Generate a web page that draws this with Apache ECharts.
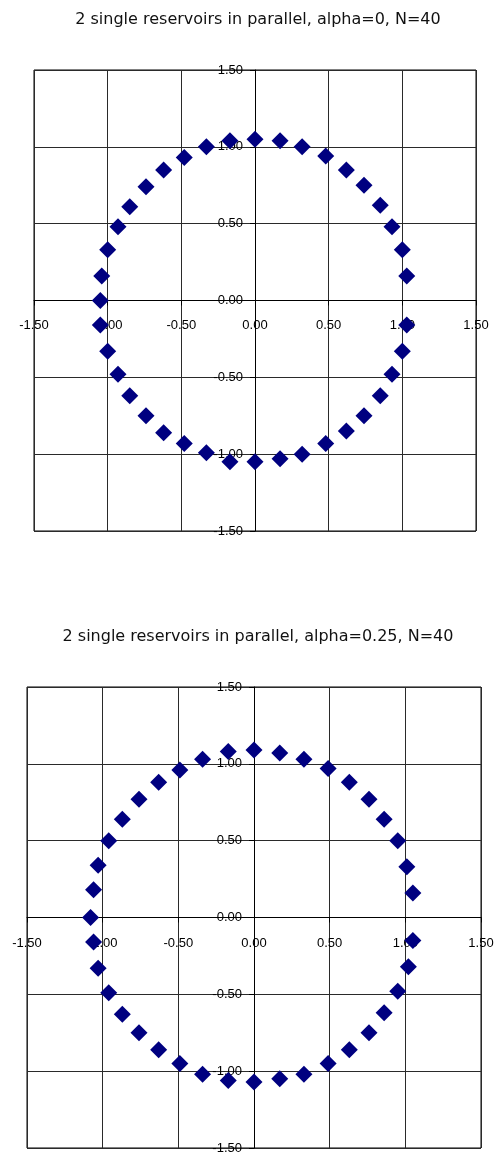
<!DOCTYPE html>
<html>
<head>
<meta charset="utf-8">
<title>2 single reservoirs in parallel</title>
<script src="https://cdn.jsdelivr.net/npm/echarts@6/dist/echarts.min.js"></script>
<style>
body{margin:0;background:#fff;}
#main{width:500px;height:1155px;}
</style>
</head>
<body>
<div id="main"></div>
<script>
// titles of the two plots
var titles = ['2 single reservoirs in parallel, alpha=0, N=40',
              '2 single reservoirs in parallel, alpha=0.25, N=40'];

// axis ticks (both axes, both plots)
var axisMin = -1.5, axisMax = 1.5, axisStep = 0.5;

// alpha=0 : points, going round from the right
var x1 = [1.03, 1.00, 0.93, 0.85, 0.74, 0.62, 0.48, 0.32, 0.17, 0.00,
          -0.17, -0.33, -0.48, -0.62, -0.74, -0.85, -0.93, -1.00, -1.04, -1.05,
          -1.05, -1.00, -0.93, -0.85, -0.74, -0.62, -0.48, -0.33, -0.17, 0.00,
          0.17, 0.32, 0.48, 0.62, 0.74, 0.85, 0.93, 1.00, 1.03];
var y1 = [0.16, 0.33, 0.48, 0.62, 0.75, 0.85, 0.94, 1.00, 1.04, 1.05,
          1.04, 1.00, 0.93, 0.85, 0.74, 0.61, 0.48, 0.33, 0.16, 0.00,
          -0.16, -0.33, -0.48, -0.62, -0.75, -0.86, -0.93, -0.99, -1.05, -1.05,
          -1.03, -1.00, -0.93, -0.85, -0.75, -0.62, -0.48, -0.33, -0.16];

// alpha=0.25
var x2 = [1.05, 1.01, 0.95, 0.86, 0.76, 0.63, 0.49, 0.33, 0.17, 0.00,
          -0.17, -0.34, -0.49, -0.63, -0.76, -0.87, -0.96, -1.03, -1.06, -1.08,
          -1.06, -1.03, -0.96, -0.87, -0.76, -0.63, -0.49, -0.34, -0.17, 0.00,
          0.17, 0.33, 0.49, 0.63, 0.76, 0.86, 0.95, 1.02, 1.05];
var y2 = [0.16, 0.33, 0.50, 0.64, 0.77, 0.88, 0.97, 1.03, 1.07, 1.09,
          1.08, 1.03, 0.96, 0.88, 0.77, 0.64, 0.50, 0.34, 0.18, 0.00,
          -0.16, -0.33, -0.49, -0.63, -0.75, -0.86, -0.95, -1.02, -1.06, -1.07,
          -1.05, -1.02, -0.95, -0.86, -0.75, -0.62, -0.48, -0.32, -0.15];

function pairs(xs, ys){
	var out = [];
	for (var i = 0; i < xs.length; i++) out.push([xs[i], ys[i]]);
	return out;
}

// plot boxes
var grids = [
	{left:34, top:70, width:442, height:461},
	{left:27, top:687, width:454, height:461}
];

var labelFont = {color:'#000', fontSize:13, fontFamily:'Liberation Sans'};
var gridLine = {show:true, lineStyle:{color:'#2a2a2a', width:1}};
function fmt(v){ return v.toFixed(2); }

// axes are pulled into the middle of the box (0 is centred since min=-max)
function xAxisFor(idx, margin){
	return {
		type:'value', gridIndex:idx, min:axisMin, max:axisMax, interval:axisStep,
		position:'bottom', offset:-grids[idx].height / 2,
		axisLine:{show:true, onZero:false, lineStyle:{color:'#000', width:1}},
		axisTick:{show:true, length:5, lineStyle:{color:'#000'}},
		axisLabel:Object.assign({margin:margin, formatter:fmt}, labelFont),
		splitLine:gridLine
	};
}
function yAxisFor(idx){
	return {
		type:'value', gridIndex:idx, min:axisMin, max:axisMax, interval:axisStep,
		position:'left', offset:-grids[idx].width / 2,
		axisLine:{show:true, onZero:false, lineStyle:{color:'#000', width:1}},
		axisTick:{show:true, length:5, lineStyle:{color:'#000'}},
		axisLabel:Object.assign({margin:12, formatter:fmt}, labelFont),
		splitLine:gridLine
	};
}

var myChart = echarts.init(document.getElementById('main'), null, {renderer:'canvas'});

var titleStyle = {fontFamily:'DejaVu Sans', fontSize:16, fontWeight:'normal', color:'#111'};

var option = {
	backgroundColor:'#fff',
	animation:false,
	title:[
		{text:titles[0], left:253, top:7, textAlign:'center', textStyle:titleStyle},
		{text:titles[1], left:253, top:624, textAlign:'center', textStyle:titleStyle}
	],
	grid:grids.map(function(g){
		return Object.assign({show:true, borderColor:'#000', borderWidth:1, backgroundColor:'#fff'}, g);
	}),
	xAxis:[xAxisFor(0, 18), xAxisFor(1, 19)],
	yAxis:[yAxisFor(0), yAxisFor(1)],
	series:[
		{type:'scatter', xAxisIndex:0, yAxisIndex:0, symbol:'diamond', symbolSize:17,
		 itemStyle:{color:'#000080', opacity:1}, data:pairs(x1, y1)},
		{type:'scatter', xAxisIndex:1, yAxisIndex:1, symbol:'diamond', symbolSize:17,
		 itemStyle:{color:'#000080', opacity:1}, data:pairs(x2, y2)}
	]
};
myChart.setOption(option);
</script>
</body>
</html>
